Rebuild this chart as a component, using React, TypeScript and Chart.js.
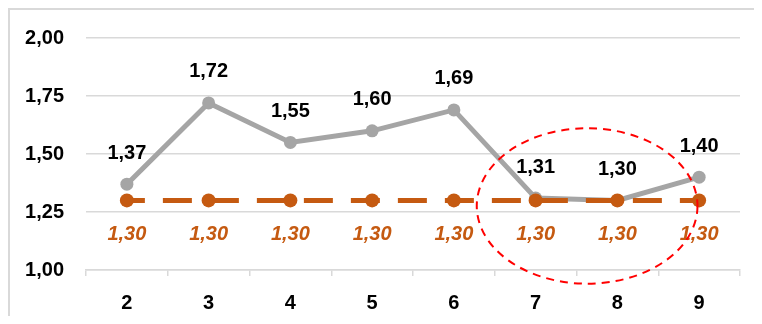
import React, { useEffect, useRef } from "react";
import { Chart, registerables } from "chart.js";

Chart.register(...registerables);

const categories = ["2", "3", "4", "5", "6", "7", "8", "9"];
const actualValues = [1.37, 1.72, 1.55, 1.6, 1.69, 1.31, 1.3, 1.4];
const targetValues = [1.3, 1.3, 1.3, 1.3, 1.3, 1.3, 1.3, 1.3];
const yMin = 1;
const yMax = 2;
const yStep = 0.25;
// highlight ellipse, in data units (category index / value)
const highlightCenter = { x: 5.63, y: 1.276 };
const highlightRadius = { x: 1.35, y: 0.335 };

const FONT = "'Liberation Sans', Arial, sans-serif";
const fmt = (v: number) => v.toFixed(2).replace(".", ",");

const labelPlugin = {
  id: "valueLabels",
  afterDatasetsDraw(chart: any) {
    const ctx = chart.ctx;
    ctx.save();
    ctx.textAlign = "center";
    ctx.textBaseline = "middle";
    chart.data.datasets.forEach((ds: any, i: number) => {
      const meta = chart.getDatasetMeta(i);
      meta.data.forEach((pt: any, j: number) => {
        const v = ds.data[j];
        if (i === 0) {
          ctx.font = `bold 20px ${FONT}`;
          ctx.fillStyle = "#000000";
          ctx.fillText(fmt(v), pt.x, pt.y - 31);
        } else {
          ctx.font = `italic bold 20px ${FONT}`;
          ctx.fillStyle = "#C55A11";
          ctx.fillText(fmt(v), pt.x, pt.y + 34);
        }
      });
    });
    ctx.restore();
  },
};

const ellipsePlugin = {
  id: "highlightEllipse",
  afterDraw(chart: any) {
    const ctx = chart.ctx;
    const xs = chart.scales.x;
    const ys = chart.scales.y;
    const cx = xs.getPixelForValue(highlightCenter.x);
    const cy = ys.getPixelForValue(highlightCenter.y);
    const rx = Math.abs(xs.getPixelForValue(highlightCenter.x + highlightRadius.x) - cx);
    const ry = Math.abs(ys.getPixelForValue(highlightCenter.y + highlightRadius.y) - cy);
    ctx.save();
    ctx.strokeStyle = "#FF0000";
    ctx.lineWidth = 2;
    ctx.setLineDash([8, 6]);
    ctx.beginPath();
    ctx.ellipse(cx, cy, rx, ry, 0, 0, Math.PI * 2);
    ctx.stroke();
    ctx.restore();
  },
};

export default function App() {
  const ref = useRef<HTMLCanvasElement>(null);
  useEffect(() => {
    if (!ref.current) return;
    const chart = new Chart(ref.current, {
      type: "line",
      data: {
        labels: categories,
        datasets: [
          {
            data: actualValues,
            order: 1,
            borderColor: "#A5A5A5",
            backgroundColor: "#A5A5A5",
            borderWidth: 5,
            pointRadius: 6.5,
            pointHoverRadius: 6.5,
            pointBorderWidth: 0,
            tension: 0,
          },
          {
            data: targetValues,
            order: 0,
            borderColor: "#C55A11",
            backgroundColor: "#C55A11",
            borderWidth: 5,
            borderDash: [29, 18],
            borderDashOffset: 11,
            pointRadius: 7,
            pointHoverRadius: 7,
            pointBorderWidth: 0,
            tension: 0,
          },
        ],
      },
      options: {
        animation: false,
        responsive: false,
        maintainAspectRatio: false,
        layout: { padding: { top: 28, right: 22, left: 0, bottom: 0 } },
        plugins: { legend: { display: false }, tooltip: { enabled: false } },
        scales: {
          x: {
            offset: true,
            grid: {
              offset: true,
              drawOnChartArea: false,
              drawTicks: true,
              tickLength: 6,
              color: "#D9D9D9",
              lineWidth: 1.5,
            },
            border: { display: true, color: "#D9D9D9", width: 1.5 },
            ticks: {
              color: "#000000",
              font: { family: FONT, size: 20, weight: "bold" },
              padding: 15,
              maxRotation: 0,
            },
            afterFit(scale: any) {
              scale.height = 46;
            },
          },
          y: {
            min: yMin,
            max: yMax,
            ticks: {
              stepSize: yStep,
              color: "#000000",
              font: { family: FONT, size: 20, weight: "bold" },
              padding: 22,
              callback: (v: any) => fmt(Number(v)),
            },
            grid: { color: "#D9D9D9", lineWidth: 1.5, drawTicks: false, tickLength: 0 },
            border: { display: false },
            afterFit(scale: any) {
              scale.width = 76;
              scale.paddingTop = 0;
              scale.paddingBottom = 0;
            },
          },
        },
      },
      plugins: [labelPlugin, ellipsePlugin],
    });
    return () => chart.destroy();
  }, []);
  return (
    <div
      style={{
        width: 754,
        height: 308,
        borderLeft: "2px solid #D9D9D9",
        borderTop: "2px solid #D9D9D9",
        boxSizing: "border-box",
        position: "relative",
      }}
    >
      <canvas ref={ref} width={752} height={306} style={{ display: "block" }} />
    </div>
  );
}
